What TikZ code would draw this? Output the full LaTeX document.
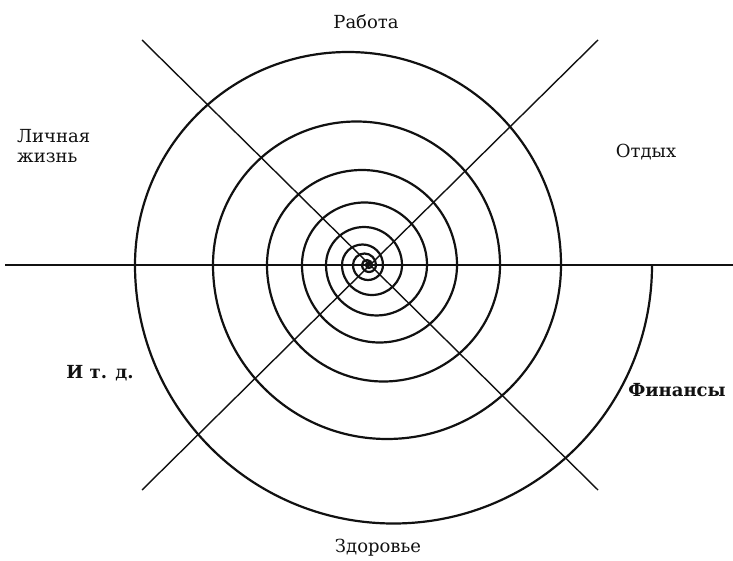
\documentclass[tikz,border=0pt]{standalone}
\usepackage{fontspec}
\setmainfont{DejaVu Serif}
\usetikzlibrary{positioning}
\definecolor{ink}{HTML}{111111}

\begin{document}
\begin{tikzpicture}[x=1pt,y=1pt,
  lbl/.style={font=\fontsize{18}{20}\selectfont,text=ink,inner sep=0pt},
  ray/.style={draw=ink,line width=1.4pt},
  coil/.style={draw=ink,line width=2.2pt}]
\useasboundingbox (0,0) rectangle (733,560);
\coordinate (c) at (370,295);
\coordinate (w) at (5,295);
\coordinate (e) at (733,295);
\coordinate (nw) at (142,520);
\coordinate (ne) at (598,520);
\coordinate (sw) at (142,70);
\coordinate (se) at (598,70);
\coordinate (tail) at (652,295);
\draw[ray] (w) -- (e);
\draw[ray] (nw) -- (se);
\draw[ray] (ne) -- (sw);
% spiral of half circles, from the loose end inwards
\draw[coil] (tail) \foreach \a/\r in {0/258.5,180/213,0/174,180/143.5,0/116.5,180/95,0/77.5,180/62.5,0/50.5,180/38,0/30,180/20.5,0/15,180/11.5,0/7,180/5,0/3,180/2}
  { arc[start angle=\a,delta angle=-180,radius=\r pt] };
\node[lbl] (rabota) at (366,538) {Работа};
\node[lbl] (otdyh) at (646,408) {Отдых};
\node[lbl,anchor=west,align=left] (lichnaya) at (17,414) {Личная\\жизнь};
\node[lbl,font=\fontsize{18}{20}\selectfont\bfseries] (itd) at (100,187) {И т. д.};
\node[lbl,font=\fontsize{18}{20}\selectfont\bfseries] (finansy) at (677,170) {Финансы};
\node[lbl] (zdorovye) at (378,12) {Здоровье};
\end{tikzpicture}
\end{document}
